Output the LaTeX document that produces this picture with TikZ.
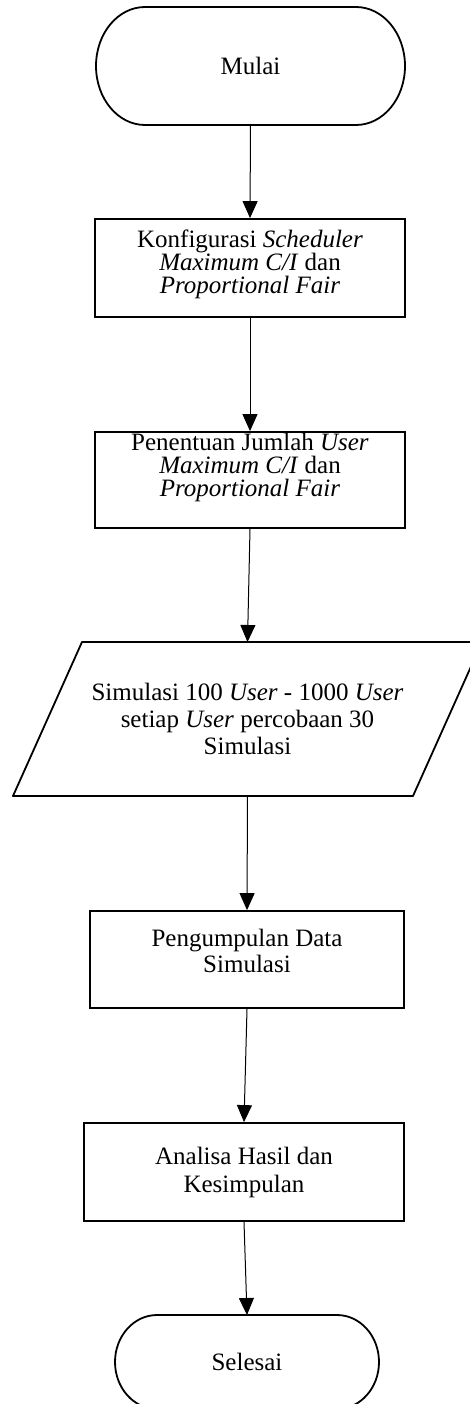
\documentclass[tikz,border=0pt]{standalone}
\usepackage{fontspec}
\setmainfont{Liberation Serif}
\usetikzlibrary{arrows.meta}
\begin{document}
\begin{tikzpicture}[x=1pt,y=1pt,
  every node/.style={font=\fontsize{25}{25}\selectfont, align=center},
  box/.style={draw, line width=1.8pt, inner sep=0pt},
  plain/.style={inner sep=0pt, outer sep=0pt},
  tight/.style={font=\fontsize{25}{23}\selectfont},
  edge/.style={line width=1.8pt, line join=round},
  flow/.style={line width=1pt, -{Triangle[length=17pt,width=15pt]}}]
\useasboundingbox (0,0) rectangle (470,-1404);
\node[plain, minimum width=309pt, minimum height=118pt] (mulai) at (250.5,-66) {Mulai};
\draw[edge] ([xshift=49pt]mulai.north west) -- ([xshift=-49pt]mulai.north east) arc[start angle=90, end angle=-90, x radius=49pt, y radius=59pt] -- ([xshift=49pt]mulai.south west) arc[start angle=270, end angle=90, x radius=49pt, y radius=59pt] -- cycle;
\node[box, tight, minimum width=310pt, minimum height=98pt] (konfig) at (250,-268) {Konfigurasi \textit{Scheduler}\\ \textit{Maximum C/I} dan\\ \textit{Proportional Fair}\rule[-13pt]{0pt}{13pt}};
\node[box, tight, minimum width=310pt, minimum height=96pt] (jumlah) at (250,-480) {Penentuan Jumlah \textit{User}\\ \textit{Maximum C/I} dan\\ \textit{Proportional Fair}\rule[-31pt]{0pt}{31pt}};
\node[plain, minimum width=400pt, minimum height=154pt] (simul) at (247.5,-719) {Simulasi 100 \textit{User} - 1000 \textit{User}\\[2pt] setiap \textit{User} percobaan 30\\[2pt] Simulasi};
\draw[edge] ([xshift=34.5pt]simul.north west) -- ([xshift=34.5pt]simul.north east) -- ([xshift=-34.5pt]simul.south east) -- ([xshift=-34.5pt]simul.south west) -- cycle;
\node[box, minimum width=314pt, minimum height=97pt] (kumpul) at (247,-959.5) {Pengumpulan Data\\[1pt] Simulasi\rule[-17pt]{0pt}{17pt}};
\node[box, minimum width=320pt, minimum height=98pt] (analisa) at (244,-1172) {Analisa Hasil dan\\[3pt] Kesimpulan};
\node[plain, minimum width=264pt, minimum height=94pt] (selesai) at (247,-1362) {Selesai};
\draw[edge] ([xshift=42pt]selesai.north west) -- ([xshift=-42pt]selesai.north east) arc[start angle=90, end angle=-90, x radius=42pt, y radius=47pt] -- ([xshift=42pt]selesai.south west) arc[start angle=270, end angle=90, x radius=42pt, y radius=47pt] -- cycle;
\draw[flow] (mulai.south) -- (konfig.north);
\draw[flow] (konfig.south) -- (jumlah.north);
\draw[flow] (jumlah.south) -- (simul.north);
\draw[flow] (simul.south) -- (kumpul.north);
\draw[flow] (kumpul.south) -- (analisa.north);
\draw[flow] (analisa.south) -- (selesai.north);
\end{tikzpicture}
\end{document}
